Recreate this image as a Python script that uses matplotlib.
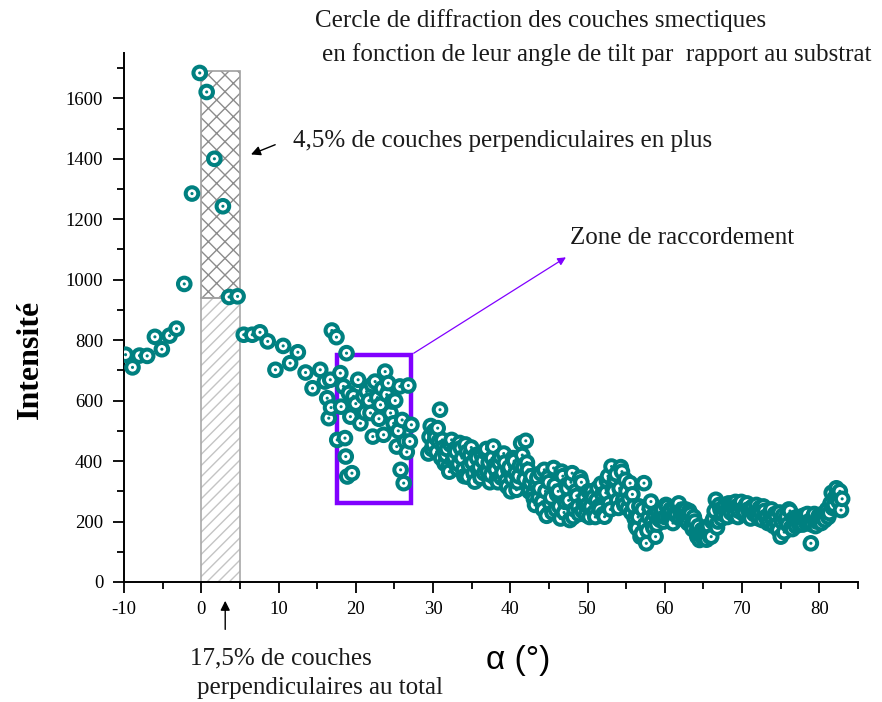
import matplotlib
matplotlib.use('Agg')
import matplotlib.pyplot as plt
from matplotlib.patches import Rectangle
from matplotlib.ticker import MultipleLocator
import numpy as np

plt.rcParams['font.family'] = ['Liberation Serif', 'DejaVu Serif']
plt.rcParams['axes.unicode_minus'] = False

# -10 .. 16 deg, roughly one point per degree
angle_sparse = [-9.8, -8.9, -8.0, -7.0, -6.0, -5.1, -4.1, -3.2, -2.2, -1.2,
                -0.2, 0.7, 1.7, 2.8, 3.6, 4.7, 5.5, 6.6, 7.6, 8.6,
                9.6, 10.6, 11.5, 12.5, 13.5, 14.4, 15.4]
intens_sparse = [752, 710, 749, 748, 811, 770, 815, 838, 986, 1285,
                 1684, 1621, 1400, 1243, 943, 945, 818, 818, 826, 796,
                 702, 781, 724, 760, 693, 641, 702]

# 16 .. 27.5 deg (zone de raccordement)
angle_zone = [16.0, 16.3, 16.5, 16.7, 16.8, 16.9, 17.5, 17.6, 18.0, 18.1,
              18.4, 18.6, 18.7, 18.8, 18.9, 19.1, 19.3, 19.5, 19.7, 20.0,
              20.3, 20.6, 21.0, 21.2, 21.4, 21.7, 21.9, 22.1, 22.2, 22.5,
              22.8, 23.0, 23.2, 23.4, 23.6, 23.8, 24.0, 24.2, 24.5, 24.7,
              24.9, 25.1, 25.3, 25.5, 25.7, 25.8, 26.0, 26.2, 26.4, 26.6,
              26.8, 27.0, 27.2]
intens_zone = [663, 608, 542, 669, 577, 832, 810, 470, 691, 580,
               647, 476, 415, 757, 349, 625, 547, 360, 614, 590,
               669, 525, 614, 560, 630, 600, 559, 652, 481, 663,
               610, 540, 586, 640, 487, 696, 620, 658, 559, 597,
               525, 600, 448, 500, 647, 371, 536, 327, 465, 430,
               650, 465, 520]

# 29.4 .. 82.8 deg, first set
angle_dense = [29.4, 29.7, 30.0, 30.3, 30.6, 30.9, 31.2, 31.5, 31.8, 32.1,
               32.4, 32.7, 33.0, 33.3, 33.6, 33.9, 34.2, 34.5, 34.8, 35.1,
               35.4, 35.7, 36.0, 36.3, 36.6, 36.9, 37.2, 37.5, 37.8, 38.1,
               38.4, 38.7, 39.0, 39.3, 39.6, 39.9, 40.2, 40.5, 40.8, 41.1,
               41.4, 41.7, 42.0, 42.3, 42.6, 42.9, 43.2, 43.5, 43.8, 44.1,
               44.4, 44.7, 45.0, 45.3, 45.6, 45.9, 46.2, 46.5, 46.8, 47.1,
               47.4, 47.7, 48.0, 48.3, 48.6, 48.9, 49.2, 49.5, 49.8, 50.1,
               50.4, 50.7, 51.0, 51.3, 51.6, 51.9, 52.2, 52.5, 52.8, 53.1,
               53.4, 53.7, 54.0, 54.3, 54.6, 54.9, 55.2, 55.5, 55.8, 56.1,
               56.4, 56.7, 57.0, 57.3, 57.6, 57.9, 58.2, 58.5, 58.8, 59.1,
               59.4, 59.7, 60.0, 60.3, 60.6, 60.9, 61.2, 61.5, 61.8, 62.1,
               62.4, 62.7, 63.0, 63.3, 63.6, 63.9, 64.2, 64.5, 64.8, 65.1,
               65.4, 65.7, 66.0, 66.3, 66.6, 66.9, 67.2, 67.5, 67.8, 68.1,
               68.4, 68.7, 69.0, 69.3, 69.6, 69.9, 70.2, 70.5, 70.8, 71.1,
               71.4, 71.7, 72.0, 72.3, 72.6, 72.9, 73.2, 73.5, 73.8, 74.1,
               74.4, 74.7, 75.0, 75.3, 75.6, 75.9, 76.2, 76.5, 76.8, 77.1,
               77.4, 77.7, 78.0, 78.3, 78.6, 78.9, 79.2, 79.5, 79.8, 80.1,
               80.4, 80.7, 81.0, 81.3, 81.6, 81.9, 82.2, 82.5, 82.8]
intens_dense = [425, 516, 455, 478, 509, 570, 470, 392, 440, 365,
                470, 412, 431, 390, 443, 372, 455, 348, 420, 395,
                332, 410, 380, 420, 360, 440, 395, 354, 448, 372,
                330, 415, 362, 395, 316, 380, 342, 400, 305, 350,
                459, 380, 467, 371, 330, 290, 255, 345, 310, 265,
                371, 219, 330, 280, 377, 240, 300, 210, 350, 265,
                310, 205, 360, 240, 285, 225, 330, 260, 222, 300,
                250, 280, 215, 310, 240, 290, 216, 335, 260, 382,
                300, 357, 245, 380, 270, 338, 244, 327, 290, 210,
                178, 250, 160, 327, 128, 215, 266, 180, 150, 230,
                205, 240, 215, 250, 225, 205, 245, 220, 260, 230,
                210, 240, 195, 225, 175, 200, 150, 139, 172, 160,
                140, 185, 150, 210, 272, 200, 240, 225, 255, 215,
                245, 260, 220, 250, 235, 265, 225, 255, 240, 210,
                250, 230, 220, 245, 205, 235, 215, 200, 240, 185,
                216, 172, 150, 220, 205, 190, 235, 175, 200, 215,
                190, 205, 220, 195, 200, 128, 215, 185, 210, 205,
                225, 205, 240, 228, 295, 255, 310, 266, 238]

# 29.55 .. 82.95 deg, second set (interleaved)
angle_dense2 = [29.55, 29.85, 30.15, 30.45, 30.75, 31.05, 31.35, 31.65, 31.95, 32.25,
                32.55, 32.85, 33.15, 33.45, 33.75, 34.05, 34.35, 34.65, 34.95, 35.25,
                35.55, 35.85, 36.15, 36.45, 36.75, 37.05, 37.35, 37.65, 37.95, 38.25,
                38.55, 38.85, 39.15, 39.45, 39.75, 40.05, 40.35, 40.65, 40.95, 41.25,
                41.55, 41.85, 42.15, 42.45, 42.75, 43.05, 43.35, 43.65, 43.95, 44.25,
                44.55, 44.85, 45.15, 45.45, 45.75, 46.05, 46.35, 46.65, 46.95, 47.25,
                47.55, 47.85, 48.15, 48.45, 48.75, 49.05, 49.35, 49.65, 49.95, 50.25,
                50.55, 50.85, 51.15, 51.45, 51.75, 52.05, 52.35, 52.65, 52.95, 53.25,
                53.55, 53.85, 54.15, 54.45, 54.75, 55.05, 55.35, 55.65, 55.95, 56.25,
                56.55, 56.85, 57.15, 57.45, 57.75, 58.05, 58.35, 58.65, 58.95, 59.25,
                59.55, 59.85, 60.15, 60.45, 60.75, 61.05, 61.35, 61.65, 61.95, 62.25,
                62.55, 62.85, 63.15, 63.45, 63.75, 64.05, 64.35, 64.65, 64.95, 65.25,
                65.55, 65.85, 66.15, 66.45, 66.75, 67.05, 67.35, 67.65, 67.95, 68.25,
                68.55, 68.85, 69.15, 69.45, 69.75, 70.05, 70.35, 70.65, 70.95, 71.25,
                71.55, 71.85, 72.15, 72.45, 72.75, 73.05, 73.35, 73.65, 73.95, 74.25,
                74.55, 74.85, 75.15, 75.45, 75.75, 76.05, 76.35, 76.65, 76.95, 77.25,
                77.55, 77.85, 78.15, 78.45, 78.75, 79.05, 79.35, 79.65, 79.95, 80.25,
                80.55, 80.85, 81.15, 81.45, 81.75, 82.05, 82.35, 82.65, 82.95]
intens_dense2 = [480, 440, 500, 430, 465, 410, 445, 420, 380, 455,
                 400, 440, 375, 460, 410, 350, 430, 385, 445, 360,
                 420, 370, 345, 400, 430, 365, 330, 410, 385, 340,
                 395, 345, 425, 335, 370, 300, 410, 360, 330, 385,
                 420, 340, 395, 300, 350, 275, 320, 280, 360, 240,
                 300, 345, 260, 230, 320, 290, 250, 365, 230, 320,
                 270, 330, 215, 300, 250, 345, 235, 280, 255, 215,
                 300, 230, 270, 250, 325, 225, 295, 350, 240, 310,
                 340, 270, 310, 365, 255, 300, 275, 230, 250, 185,
                 215, 150, 240, 190, 170, 245, 200, 225, 190, 210,
                 230, 200, 255, 215, 240, 195, 225, 250, 210, 240,
                 225, 205, 235, 190, 215, 165, 185, 155, 145, 180,
                 165, 150, 200, 235, 180, 255, 210, 245, 230, 260,
                 230, 245, 265, 215, 255, 240, 230, 260, 220, 245,
                 225, 255, 210, 230, 250, 215, 195, 230, 205, 225,
                 190, 230, 200, 165, 215, 240, 180, 210, 185, 200,
                 215, 190, 205, 225, 200, 190, 225, 200, 220, 195,
                 210, 230, 215, 260, 245, 280, 290, 300, 275]

# shaded bar 0-5 deg
bar_x0, bar_x1 = 0, 5
bar_split = 940
bar_top = 1690

# zone de raccordement box
zone_x0, zone_x1 = 17.6, 27.2
zone_y0, zone_y1 = 262, 752

teal = '#008080'
violet = '#8000ff'

angle = np.array(angle_sparse + angle_zone + angle_dense + angle_dense2)
intens = np.array(intens_sparse + intens_zone + intens_dense + intens_dense2)
order = np.argsort(angle, kind='stable')
angle, intens = angle[order], intens[order]

fig = plt.figure(figsize=(8.82, 7.02), dpi=100)
ax = fig.add_axes([124/882, 1 - 582/702, 734/882, 529/702])
ax.set_xlim(-10, 85)
ax.set_ylim(0, 1750)

# hatched bars
ax.add_patch(Rectangle((bar_x0, 0), bar_x1 - bar_x0, bar_split, facecolor='none',
                       edgecolor='#c4c4c4', hatch='///', linewidth=0, zorder=1))
ax.add_patch(Rectangle((bar_x0, bar_split), bar_x1 - bar_x0, bar_top - bar_split,
                       facecolor='none', edgecolor='#8c8c8c', hatch='xx', linewidth=0, zorder=1))
ax.add_patch(Rectangle((bar_x0, 0), bar_x1 - bar_x0, bar_split, fill=False,
                       edgecolor='#a8a8a8', linewidth=1.2, zorder=1.5))
ax.add_patch(Rectangle((bar_x0, bar_split), bar_x1 - bar_x0, bar_top - bar_split, fill=False,
                       edgecolor='#a0a0a0', linewidth=1.2, zorder=1.5))

ax.add_patch(Rectangle((zone_x0, zone_y0), zone_x1 - zone_x0, zone_y1 - zone_y0, fill=False,
                       edgecolor=violet, linewidth=3.2, zorder=2))

# ring + dot markers, interleaved so later points cover earlier ones
n = len(angle)
xs = np.repeat(angle, 2)
ys = np.repeat(intens, 2)
sizes = np.tile([82, 5], n)
fcs = np.tile([[1, 1, 1, 1], list(matplotlib.colors.to_rgba(teal))], (n, 1))
lws = np.tile([2.9, 0], n)
ax.scatter(xs, ys, s=sizes, facecolors=fcs, edgecolors=teal, linewidths=lws, zorder=3)

for s in ['top', 'right']:
    ax.spines[s].set_visible(False)
for s in ['left', 'bottom']:
    ax.spines[s].set_linewidth(1.4)

ax.set_xticks(range(-10, 81, 10))
ax.xaxis.set_minor_locator(MultipleLocator(5))
ax.set_yticks(range(0, 1601, 200))
ax.yaxis.set_minor_locator(MultipleLocator(100))
ax.tick_params(which='major', direction='out', length=8, width=1.3, labelsize=13.5)
ax.tick_params(which='minor', direction='out', length=5, width=1.3)
ax.tick_params(axis='y', pad=7)
ax.tick_params(axis='x', pad=6)

# annotations
txt = dict(fontsize=18, color='#1a1a1a')
ax.annotate('', xy=(6.1, 1411), xytext=(9.9, 1450),
            arrowprops=dict(arrowstyle='-|>', color='black', lw=1, mutation_scale=14))
fig.text(293/882, 1 - 141/702, '4,5% de couches perpendiculaires en plus', ha='left', va='center', **txt)

ax.annotate('', xy=(47.5, 1079), xytext=(zone_x1, zone_y1),
            arrowprops=dict(arrowstyle='-|>', color=violet, lw=0.9, mutation_scale=12))
fig.text(570/882, 1 - 238/702, 'Zone de raccordement', ha='left', va='center', **txt)

ax.annotate('', xy=(3.1, -53), xytext=(3.1, -166), annotation_clip=False,
            arrowprops=dict(arrowstyle='-|>', color='black', lw=1, mutation_scale=14))
fig.text(190/882, 1 - 658/702, '17,5% de couches', ha='left', va='center', **txt)
fig.text(197/882, 1 - 688/702, 'perpendiculaires au total', ha='left', va='center', **txt)

fig.text(315/882, 1 - 21/702, 'Cercle de diffraction des couches smectiques', ha='left', va='center', **txt)
fig.text(322/882, 1 - 55/702, 'en fonction de leur angle de tilt par  rapport au substrat', ha='left', va='center', **txt)

fig.text(518/882, 1 - 660/702, 'α (°)', ha='center', va='center', fontsize=24,
         family=['Liberation Sans', 'DejaVu Sans'])
fig.text(30/882, 1 - 359/702, 'Intensité', ha='center', va='center', rotation=90,
         fontsize=23, fontweight='bold')

fig.savefig('out.png', dpi=100)
